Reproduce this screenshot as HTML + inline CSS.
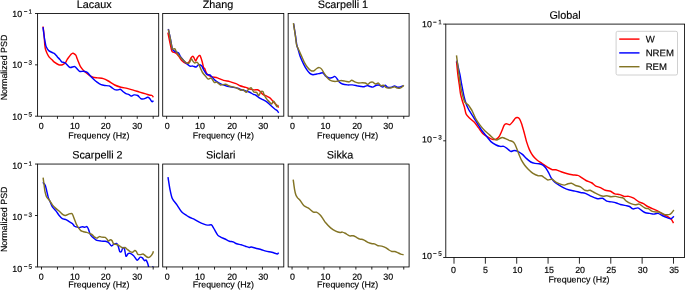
<!DOCTYPE html>
<html><head><meta charset="utf-8"><title>PSD</title>
<style>html,body{margin:0;padding:0;background:#fff}body{width:685px;height:290px;overflow:hidden}</style></head>
<body>
<svg width="685" height="290" viewBox="0 0 685 290" style="display:block;will-change:transform">
<rect width="685" height="290" fill="#fff"/>
<defs>
<clipPath id="c1"><rect x="37.6" y="13.5" width="121.10" height="102.70"/></clipPath>
<clipPath id="c2"><rect x="162.7" y="13.5" width="121.10" height="102.70"/></clipPath>
<clipPath id="c3"><rect x="288.15" y="13.5" width="120.95" height="102.70"/></clipPath>
<clipPath id="c4"><rect x="37.6" y="164.05" width="121.10" height="102.90"/></clipPath>
<clipPath id="c5"><rect x="162.7" y="164.05" width="121.10" height="102.90"/></clipPath>
<clipPath id="c6"><rect x="288.15" y="164.05" width="120.95" height="102.90"/></clipPath>
<clipPath id="c7"><rect x="445.8" y="24.1" width="238.80" height="233.40"/></clipPath>
</defs>
<g clip-path="url(#c1)" fill="none" stroke-width="1.45" stroke-linejoin="round" stroke-linecap="butt">
<path stroke="#ff0000" d="M43.05 26.50C43.16 27.44 43.78 32.31 43.95 34.00C44.12 35.69 44.34 38.62 44.45 40.00C44.56 41.38 44.67 43.84 44.80 45.00C44.93 46.16 45.23 48.27 45.50 49.30C45.77 50.32 46.54 52.23 47.00 53.20C47.46 54.18 48.54 56.25 49.20 57.10C49.86 57.95 51.70 59.41 52.30 60.00C52.90 60.59 53.20 61.21 54.00 61.80C54.80 62.39 57.64 64.34 58.70 64.70C59.76 65.06 61.66 64.94 62.50 64.70C63.34 64.46 64.85 63.39 65.40 62.80C65.95 62.21 66.55 60.60 66.90 60.00C67.25 59.40 67.68 58.73 68.20 58.00C68.72 57.27 70.54 54.79 71.10 54.20C71.66 53.61 72.40 53.41 72.70 53.30C73.00 53.19 73.11 53.06 73.50 53.30C73.89 53.54 75.33 54.49 75.80 55.20C76.27 55.91 76.96 58.15 77.30 59.00C77.64 59.85 78.10 61.05 78.50 62.00C78.90 62.95 79.78 65.44 80.50 66.60C81.22 67.76 83.22 70.24 84.30 71.30C85.38 72.36 88.02 74.36 89.10 75.10C90.17 75.84 91.84 76.85 92.90 77.20C93.96 77.55 96.30 77.73 97.60 77.90C98.90 78.08 101.96 78.21 103.30 78.60C104.64 78.99 106.88 80.20 108.30 81.00C109.72 81.80 113.12 84.22 114.70 85.00C116.28 85.78 119.35 86.78 120.90 87.20C122.45 87.62 125.55 88.04 127.10 88.40C128.65 88.76 131.74 89.64 133.30 90.10C134.86 90.56 138.04 91.62 139.60 92.10C141.16 92.57 144.49 93.51 145.80 93.90C147.11 94.29 149.32 95.00 150.10 95.20C150.88 95.40 151.59 95.24 152.00 95.50C152.41 95.76 153.22 97.08 153.40 97.30"/>
<path stroke="#0000ff" d="M43.00 27.20C43.17 28.55 44.11 36.02 44.40 38.00C44.69 39.98 45.07 41.90 45.30 43.00C45.52 44.10 45.74 45.81 46.20 46.80C46.66 47.79 48.15 50.14 49.00 50.90C49.85 51.66 52.31 52.56 53.00 52.90C53.69 53.24 53.95 53.10 54.50 53.60C55.05 54.10 56.71 56.15 57.40 56.90C58.09 57.65 59.48 58.99 60.00 59.60C60.52 60.21 60.92 61.36 61.60 61.80C62.28 62.24 64.34 62.39 65.40 63.10C66.46 63.81 68.92 67.06 70.10 67.50C71.27 67.94 73.61 66.12 74.80 66.60C75.99 67.07 78.52 70.71 79.60 71.30C80.67 71.89 82.45 71.17 83.40 71.30C84.35 71.42 86.35 71.74 87.20 72.30C88.05 72.86 89.40 74.92 90.20 75.80C91.00 76.67 92.70 78.47 93.60 79.30C94.50 80.12 96.46 81.73 97.40 82.40C98.34 83.08 100.17 84.31 101.10 84.70C102.02 85.09 103.79 85.35 104.80 85.50C105.81 85.65 108.26 85.59 109.20 85.90C110.14 86.21 111.61 87.54 112.30 88.00C112.99 88.46 114.01 89.36 114.70 89.60C115.39 89.84 117.10 89.94 117.80 89.90C118.50 89.86 119.67 89.11 120.30 89.30C120.92 89.49 122.10 90.86 122.80 91.40C123.50 91.94 125.12 93.20 125.90 93.60C126.68 94.00 128.35 94.29 129.00 94.60C129.65 94.91 130.47 96.06 131.10 96.10C131.72 96.14 133.18 94.98 134.00 94.90C134.82 94.83 136.85 95.04 137.70 95.50C138.55 95.96 140.03 98.17 140.80 98.60C141.58 99.02 143.05 99.06 143.90 98.90C144.75 98.74 146.90 97.38 147.60 97.30C148.30 97.22 148.95 97.75 149.50 98.30C150.05 98.85 151.51 101.40 152.00 101.70C152.49 102.00 153.22 100.83 153.40 100.70"/>
</g>
<g clip-path="url(#c2)" fill="none" stroke-width="1.45" stroke-linejoin="round" stroke-linecap="butt">
<path stroke="#ff0000" d="M167.90 32.60C168.15 33.84 169.44 40.27 169.90 42.50C170.36 44.73 171.26 49.21 171.60 50.40C171.94 51.59 172.11 51.67 172.60 52.00C173.09 52.33 174.75 52.49 175.50 53.00C176.25 53.51 177.82 55.16 178.60 56.10C179.38 57.04 180.76 59.56 181.70 60.50C182.64 61.44 185.16 63.45 186.10 63.60C187.04 63.75 188.59 62.40 189.20 61.70C189.81 61.00 190.54 58.70 191.00 58.00C191.46 57.30 192.51 56.10 192.90 56.10C193.29 56.10 193.75 57.38 194.10 58.00C194.45 58.62 195.31 61.10 195.70 61.10C196.09 61.10 196.77 58.70 197.20 58.00C197.62 57.30 198.71 55.74 199.10 55.50C199.49 55.26 199.91 55.33 200.30 56.10C200.69 56.88 201.77 60.19 202.20 61.70C202.62 63.21 203.39 67.35 203.70 68.20C204.01 69.05 204.31 67.80 204.70 68.50C205.09 69.20 205.99 72.79 206.80 73.80C207.61 74.81 209.88 76.09 211.20 76.60C212.52 77.11 215.85 77.43 217.40 77.90C218.95 78.38 222.05 79.94 223.60 80.40C225.15 80.86 228.25 81.19 229.80 81.60C231.35 82.01 234.72 83.18 236.00 83.70C237.28 84.22 238.78 85.29 240.00 85.75C241.22 86.21 244.55 86.98 245.80 87.40C247.05 87.82 248.95 88.79 250.00 89.10C251.05 89.41 253.26 89.83 254.20 89.90C255.14 89.98 256.77 89.54 257.50 89.70C258.23 89.86 259.38 90.65 260.00 91.20C260.62 91.75 261.65 93.47 262.50 94.10C263.35 94.72 265.88 95.74 266.80 96.20C267.73 96.66 269.29 97.36 269.90 97.80C270.51 98.24 271.24 99.16 271.70 99.70C272.16 100.24 273.05 101.49 273.60 102.10C274.15 102.71 275.56 104.05 276.10 104.60C276.64 105.15 277.64 106.11 277.95 106.50C278.26 106.89 278.52 107.55 278.60 107.70"/>
<path stroke="#0000ff" d="M168.30 29.00C168.59 30.34 170.07 37.18 170.60 39.70C171.12 42.23 171.89 47.69 172.50 49.20C173.11 50.71 174.74 51.32 175.50 51.80C176.26 52.27 177.97 52.39 178.60 53.00C179.22 53.61 179.88 55.76 180.50 56.70C181.12 57.64 182.82 59.64 183.60 60.50C184.38 61.36 185.92 62.90 186.70 63.60C187.47 64.30 189.03 65.79 189.80 66.10C190.58 66.41 192.12 65.99 192.90 66.10C193.68 66.21 195.30 67.16 196.00 67.00C196.70 66.84 197.80 64.95 198.50 64.80C199.20 64.65 200.95 65.17 201.60 65.80C202.25 66.42 203.05 68.72 203.70 69.80C204.35 70.88 206.03 73.75 206.80 74.40C207.58 75.05 209.20 74.61 209.90 75.00C210.60 75.39 211.62 76.72 212.40 77.50C213.18 78.28 215.01 80.38 216.10 81.20C217.19 82.03 219.70 83.47 221.10 84.10C222.50 84.72 225.75 85.79 227.30 86.20C228.85 86.61 232.22 87.14 233.50 87.40C234.78 87.66 236.28 87.89 237.50 88.25C238.72 88.61 241.84 89.83 243.30 90.30C244.76 90.77 247.95 91.50 249.20 92.00C250.45 92.50 252.50 93.92 253.30 94.30C254.10 94.67 254.85 94.56 255.60 95.00C256.35 95.44 258.38 97.21 259.30 97.80C260.23 98.39 262.06 99.20 263.00 99.70C263.94 100.20 265.86 101.11 266.80 101.80C267.74 102.49 269.50 104.30 270.50 105.20C271.50 106.10 273.95 108.30 274.80 109.00C275.65 109.70 276.81 110.31 277.30 110.80C277.79 111.29 278.52 112.64 278.70 112.90"/>
<path stroke="#837424" d="M168.40 29.30C168.66 30.64 170.01 37.59 170.50 40.00C170.99 42.41 171.75 47.49 172.30 48.60C172.85 49.71 174.35 48.42 174.90 48.90C175.45 49.38 176.07 51.42 176.70 52.40C177.32 53.38 179.04 55.69 179.90 56.70C180.76 57.71 182.75 59.71 183.60 60.50C184.45 61.29 186.00 62.69 186.70 63.00C187.40 63.31 188.69 63.39 189.20 63.00C189.71 62.61 190.50 60.41 190.80 59.90C191.10 59.39 191.34 58.75 191.60 58.90C191.86 59.05 192.51 60.59 192.90 61.10C193.29 61.61 194.16 62.85 194.70 63.00C195.24 63.15 196.65 62.07 197.20 62.30C197.75 62.52 198.64 63.94 199.10 64.80C199.56 65.66 200.47 68.24 200.90 69.20C201.33 70.16 201.91 71.61 202.50 72.50C203.09 73.39 204.90 75.47 205.60 76.30C206.30 77.12 207.40 78.88 208.10 79.10C208.80 79.32 210.42 77.67 211.20 78.10C211.97 78.52 213.61 82.00 214.30 82.50C214.99 83.00 215.92 81.79 216.70 82.10C217.47 82.41 219.41 84.72 220.50 85.00C221.59 85.28 224.24 84.15 225.40 84.30C226.56 84.45 228.60 85.81 229.80 86.20C231.00 86.59 233.94 87.08 235.00 87.40C236.06 87.73 237.58 88.44 238.30 88.80C239.03 89.16 240.18 90.19 240.80 90.30C241.43 90.41 242.62 89.44 243.30 89.70C243.98 89.96 245.62 92.43 246.25 92.40C246.88 92.38 247.68 90.08 248.30 89.50C248.93 88.92 250.57 87.49 251.25 87.80C251.93 88.11 253.07 91.42 253.75 92.00C254.43 92.58 256.07 91.93 256.70 92.40C257.32 92.87 258.24 95.83 258.75 95.75C259.26 95.67 260.28 92.32 260.80 91.80C261.32 91.28 262.46 91.16 262.90 91.60C263.34 92.04 263.90 94.49 264.30 95.30C264.70 96.11 265.64 97.44 266.10 98.10C266.56 98.76 267.52 100.05 268.00 100.60C268.48 101.15 269.44 102.08 269.90 102.50C270.36 102.92 271.31 104.12 271.70 104.00C272.09 103.88 272.65 101.74 273.00 101.50C273.35 101.26 274.15 101.67 274.50 102.10C274.85 102.52 275.49 104.31 275.80 104.90C276.11 105.49 276.69 106.80 277.00 106.80C277.31 106.80 278.14 105.14 278.30 104.90"/>
</g>
<g clip-path="url(#c3)" fill="none" stroke-width="1.45" stroke-linejoin="round" stroke-linecap="butt">
<path stroke="#0000ff" d="M293.60 23.60C293.84 25.12 295.10 33.12 295.50 35.80C295.90 38.47 296.48 43.33 296.80 45.00C297.12 46.67 297.64 47.66 298.10 49.20C298.56 50.74 299.81 55.44 300.50 57.30C301.19 59.16 302.82 62.55 303.60 64.10C304.38 65.65 305.97 68.54 306.75 69.70C307.53 70.86 309.08 72.78 309.85 73.40C310.62 74.03 312.09 74.62 312.95 74.70C313.81 74.78 315.77 74.24 316.70 74.05C317.63 73.86 319.62 73.36 320.40 73.20C321.17 73.04 322.27 72.46 322.90 72.80C323.52 73.14 324.70 75.28 325.40 75.90C326.10 76.53 327.73 77.56 328.50 77.80C329.27 78.04 330.91 77.95 331.60 77.80C332.29 77.65 333.57 76.76 334.00 76.60C334.43 76.44 334.65 76.28 335.00 76.50C335.35 76.72 336.26 77.70 336.80 78.40C337.34 79.10 338.60 81.40 339.30 82.10C340.00 82.80 341.39 83.65 342.40 84.00C343.41 84.35 346.16 84.79 347.40 84.90C348.64 85.01 351.06 84.78 352.30 84.90C353.54 85.02 356.21 85.65 357.30 85.85C358.39 86.05 360.15 86.38 361.00 86.50C361.85 86.62 363.33 86.91 364.10 86.80C364.88 86.69 366.43 85.64 367.20 85.60C367.97 85.56 369.60 86.31 370.30 86.50C371.00 86.69 372.03 87.26 372.80 87.10C373.57 86.94 375.65 85.44 376.50 85.20C377.35 84.96 378.83 84.96 379.60 85.20C380.38 85.44 382.00 87.10 382.70 87.10C383.40 87.10 384.57 85.17 385.20 85.20C385.82 85.23 386.93 87.04 387.70 87.30C388.47 87.56 390.55 87.48 391.40 87.30C392.25 87.12 393.73 85.85 394.50 85.85C395.27 85.85 396.83 87.18 397.60 87.30C398.38 87.42 400.00 86.98 400.70 86.80C401.40 86.62 402.89 85.97 403.20 85.85"/>
<path stroke="#837424" d="M293.40 23.20C293.64 24.72 294.91 32.71 295.30 35.40C295.69 38.09 296.15 43.06 296.50 44.70C296.85 46.34 297.51 47.16 298.10 48.50C298.69 49.84 300.43 53.67 301.20 55.40C301.97 57.12 303.53 60.82 304.30 62.30C305.07 63.77 306.62 66.20 307.40 67.20C308.17 68.20 309.73 69.83 310.50 70.30C311.27 70.77 312.83 71.22 313.60 71.00C314.38 70.78 316.00 68.92 316.70 68.50C317.40 68.08 318.59 67.52 319.20 67.60C319.81 67.67 320.91 68.29 321.60 69.10C322.29 69.91 323.84 72.86 324.70 74.10C325.56 75.34 327.64 78.15 328.50 79.00C329.36 79.85 330.68 80.60 331.60 80.90C332.53 81.20 334.76 81.44 335.90 81.40C337.04 81.36 339.57 80.64 340.70 80.60C341.82 80.56 343.84 80.94 344.90 81.10C345.96 81.26 348.35 82.00 349.20 81.90C350.05 81.80 351.00 80.30 351.70 80.30C352.40 80.30 353.95 81.56 354.80 81.90C355.65 82.24 357.56 82.89 358.50 83.00C359.44 83.11 361.44 82.75 362.30 82.75C363.16 82.75 364.71 82.79 365.40 83.00C366.09 83.21 367.19 84.48 367.80 84.40C368.41 84.33 369.68 82.69 370.30 82.40C370.93 82.11 372.18 81.90 372.80 82.10C373.43 82.30 374.60 83.88 375.30 84.00C376.00 84.12 377.70 82.87 378.40 83.10C379.10 83.33 380.28 85.59 380.90 85.85C381.52 86.11 382.74 85.02 383.35 85.20C383.96 85.38 385.18 86.94 385.80 87.30C386.42 87.66 387.60 88.05 388.30 88.10C389.00 88.15 390.62 87.86 391.40 87.70C392.17 87.54 393.73 86.75 394.50 86.80C395.27 86.85 396.90 87.94 397.60 88.10C398.30 88.26 399.48 88.30 400.10 88.10C400.73 87.90 402.14 86.86 402.60 86.50C403.06 86.14 403.65 85.36 403.80 85.20"/>
</g>
<g clip-path="url(#c4)" fill="none" stroke-width="1.45" stroke-linejoin="round" stroke-linecap="butt">
<path stroke="#0000ff" d="M42.80 182.40C43.11 182.79 44.75 184.18 45.30 185.50C45.85 186.82 46.81 191.45 47.20 193.00C47.59 194.55 48.06 196.88 48.40 197.90C48.74 198.93 49.40 200.09 49.90 201.20C50.40 202.31 51.62 205.56 52.40 206.80C53.17 208.04 55.25 210.01 56.10 211.10C56.95 212.19 58.43 214.56 59.20 215.50C59.98 216.44 61.44 218.09 62.30 218.60C63.16 219.11 65.19 219.21 66.05 219.60C66.91 219.99 68.42 221.21 69.20 221.70C69.98 222.19 71.64 222.93 72.30 223.50C72.96 224.07 73.99 225.88 74.50 226.30C75.01 226.73 75.80 226.73 76.40 226.90C77.00 227.07 78.58 227.72 79.30 227.70C80.02 227.67 81.51 226.75 82.20 226.70C82.89 226.65 84.20 227.31 84.80 227.30C85.40 227.29 86.55 226.38 87.00 226.60C87.45 226.82 88.04 228.24 88.40 229.10C88.76 229.96 89.49 232.59 89.90 233.50C90.31 234.41 91.20 235.81 91.70 236.40C92.20 236.99 93.26 237.75 93.90 238.25C94.54 238.75 95.89 240.04 96.80 240.40C97.71 240.76 100.14 240.99 101.20 241.10C102.26 241.21 104.40 241.15 105.30 241.30C106.20 241.45 107.62 241.72 108.40 242.30C109.18 242.88 110.85 245.69 111.50 245.95C112.15 246.21 112.95 244.72 113.60 244.40C114.25 244.08 116.11 243.14 116.70 243.40C117.29 243.66 117.91 245.47 118.30 246.50C118.69 247.53 119.41 251.01 119.80 251.65C120.19 252.29 121.01 252.17 121.40 251.65C121.79 251.13 122.51 247.82 122.90 247.50C123.29 247.18 124.11 248.00 124.50 249.10C124.89 250.20 125.55 255.73 126.00 256.30C126.45 256.88 127.57 254.06 128.10 253.70C128.62 253.34 129.54 253.18 130.20 253.40C130.86 253.62 132.74 254.89 133.40 255.50C134.06 256.11 135.03 257.71 135.50 258.30C135.97 258.89 136.60 260.34 137.20 260.20C137.80 260.06 139.65 257.49 140.30 257.20C140.95 256.91 141.88 257.46 142.40 257.90C142.93 258.34 144.06 260.44 144.50 260.70C144.94 260.96 145.56 259.82 145.90 260.00C146.24 260.18 146.90 261.41 147.20 262.10C147.50 262.79 148.05 264.57 148.30 265.50C148.55 266.43 148.92 268.81 149.20 269.50C149.47 270.19 150.18 271.15 150.50 271.00C150.82 270.85 151.44 268.85 151.80 268.30C152.16 267.75 153.20 266.81 153.40 266.60"/>
<path stroke="#837424" d="M43.10 177.70C43.23 178.60 43.88 183.22 44.10 184.90C44.33 186.58 44.60 189.62 44.90 191.10C45.20 192.57 45.96 195.59 46.50 196.70C47.04 197.81 48.46 198.97 49.20 200.00C49.94 201.03 51.54 203.83 52.40 204.90C53.26 205.97 55.17 207.74 56.10 208.60C57.03 209.46 58.99 211.00 59.85 211.75C60.71 212.50 62.26 214.13 62.95 214.60C63.64 215.07 64.62 215.59 65.40 215.50C66.18 215.41 68.38 214.14 69.20 213.90C70.03 213.66 71.46 213.25 72.00 213.60C72.54 213.95 73.14 215.84 73.50 216.70C73.86 217.56 74.54 219.54 74.90 220.50C75.26 221.46 75.99 223.55 76.40 224.40C76.81 225.25 77.65 226.53 78.20 227.30C78.75 228.08 80.21 230.07 80.80 230.60C81.39 231.12 82.18 231.28 82.90 231.50C83.62 231.72 85.77 232.15 86.60 232.40C87.42 232.65 88.81 233.22 89.50 233.50C90.19 233.78 91.46 234.14 92.10 234.60C92.74 235.06 94.01 236.71 94.60 237.15C95.19 237.59 96.20 238.17 96.80 238.10C97.40 238.03 98.76 236.72 99.40 236.60C100.04 236.48 101.18 237.05 101.90 237.15C102.62 237.25 104.54 237.12 105.20 237.40C105.86 237.68 106.81 238.94 107.20 239.40C107.59 239.86 107.89 241.06 108.30 241.10C108.71 241.14 110.03 239.74 110.50 239.70C110.97 239.66 111.71 240.28 112.10 240.80C112.49 241.33 113.15 243.45 113.60 243.90C114.05 244.35 115.18 244.28 115.70 244.40C116.22 244.53 117.17 244.64 117.75 244.90C118.33 245.16 119.66 246.11 120.30 246.50C120.94 246.89 122.31 247.88 122.90 248.00C123.49 248.12 124.41 247.30 125.00 247.50C125.59 247.70 126.95 249.08 127.60 249.60C128.25 250.12 129.56 251.33 130.20 251.65C130.84 251.97 132.18 252.34 132.75 252.20C133.32 252.06 134.34 250.57 134.80 250.50C135.26 250.43 136.03 251.16 136.40 251.65C136.78 252.14 137.31 254.03 137.80 254.40C138.29 254.77 139.64 254.65 140.30 254.60C140.96 254.55 142.47 253.86 143.10 254.00C143.72 254.14 144.74 255.29 145.30 255.70C145.86 256.11 147.06 257.11 147.60 257.30C148.14 257.49 149.12 257.44 149.60 257.20C150.07 256.96 151.00 255.91 151.40 255.40C151.80 254.89 152.55 253.61 152.80 253.10C153.05 252.59 153.33 251.53 153.40 251.30"/>
</g>
<g clip-path="url(#c5)" fill="none" stroke-width="1.45" stroke-linejoin="round" stroke-linecap="butt">
<path stroke="#0000ff" d="M168.00 177.20C168.24 178.67 169.36 186.34 169.90 189.00C170.44 191.66 171.40 196.49 172.30 198.50C173.20 200.51 175.91 203.40 177.10 205.10C178.29 206.80 180.61 210.80 181.80 212.10C182.99 213.40 185.57 214.82 186.60 215.50C187.62 216.18 189.03 217.03 190.00 217.50C190.97 217.97 193.30 218.75 194.40 219.30C195.50 219.85 197.61 221.30 198.80 221.90C199.99 222.50 202.81 223.70 203.90 224.10C204.99 224.50 206.59 225.01 207.50 225.10C208.41 225.19 210.56 224.65 211.20 224.80C211.84 224.95 212.15 225.62 212.60 226.30C213.05 226.98 214.16 229.10 214.80 230.20C215.44 231.30 216.96 234.24 217.70 235.10C218.44 235.96 219.79 236.61 220.70 237.10C221.61 237.59 223.91 238.49 225.00 239.00C226.09 239.51 228.39 240.84 229.40 241.20C230.41 241.56 232.19 241.57 233.10 241.90C234.01 242.23 235.70 243.44 236.70 243.80C237.70 244.16 240.00 244.49 241.10 244.80C242.20 245.11 244.50 245.96 245.50 246.30C246.50 246.64 248.38 247.41 249.10 247.50C249.82 247.59 250.48 246.91 251.30 247.00C252.12 247.09 254.42 247.86 255.70 248.20C256.97 248.54 260.23 249.34 261.50 249.70C262.77 250.06 264.62 250.77 265.90 251.10C267.18 251.43 270.48 251.99 271.75 252.30C273.02 252.61 275.37 253.40 276.10 253.60C276.83 253.80 277.29 254.03 277.60 253.90C277.91 253.78 278.48 252.76 278.60 252.60"/>
</g>
<g clip-path="url(#c6)" fill="none" stroke-width="1.45" stroke-linejoin="round" stroke-linecap="butt">
<path stroke="#837424" d="M293.20 179.60C293.36 180.79 294.16 187.16 294.50 189.10C294.84 191.04 295.54 194.04 295.90 195.10C296.26 196.16 296.86 196.92 297.40 197.60C297.94 198.28 299.38 199.47 300.20 200.50C301.02 201.53 302.93 204.81 304.00 205.80C305.07 206.79 307.61 207.60 308.80 208.40C309.99 209.20 312.55 211.72 313.50 212.20C314.45 212.67 315.56 211.86 316.40 212.20C317.24 212.54 319.38 214.07 320.20 214.90C321.02 215.73 322.31 217.81 323.00 218.80C323.69 219.79 324.75 221.67 325.70 222.80C326.65 223.93 329.35 226.81 330.60 227.85C331.85 228.89 334.51 230.52 335.70 231.10C336.89 231.68 339.28 232.38 340.10 232.50C340.93 232.62 341.66 232.01 342.30 232.10C342.94 232.19 344.29 232.78 345.20 233.25C346.11 233.72 348.60 235.59 349.60 235.90C350.60 236.21 352.38 235.54 353.20 235.70C354.02 235.86 355.32 236.77 356.15 237.20C356.97 237.62 358.98 238.81 359.80 239.10C360.62 239.39 361.97 239.26 362.70 239.50C363.43 239.74 364.87 240.60 365.60 241.00C366.33 241.40 367.73 242.35 368.55 242.70C369.38 243.05 371.47 243.65 372.20 243.80C372.93 243.95 373.67 243.66 374.40 243.90C375.12 244.14 377.09 245.42 378.00 245.70C378.91 245.97 380.69 245.83 381.70 246.10C382.71 246.37 385.19 247.36 386.10 247.85C387.01 248.34 388.27 249.54 389.00 250.00C389.73 250.46 391.17 251.31 391.90 251.50C392.62 251.69 394.07 251.35 394.80 251.50C395.53 251.65 397.01 252.38 397.75 252.70C398.49 253.02 399.97 253.85 400.70 254.10C401.43 254.35 403.24 254.62 403.60 254.70"/>
</g>
<g clip-path="url(#c7)" fill="none" stroke-width="1.45" stroke-linejoin="round" stroke-linecap="butt">
<path stroke="#ff0000" d="M456.50 61.50C456.68 63.19 457.55 72.10 457.90 75.00C458.25 77.90 458.96 82.28 459.30 84.70C459.64 87.12 460.18 92.24 460.60 94.40C461.03 96.56 462.23 100.42 462.70 102.00C463.17 103.58 463.97 105.50 464.40 107.00C464.82 108.50 465.54 112.69 466.10 114.00C466.66 115.31 467.86 116.46 468.90 117.50C469.94 118.54 473.19 121.00 474.40 122.30C475.61 123.60 477.56 126.51 478.60 127.90C479.64 129.29 481.57 132.28 482.70 133.40C483.82 134.53 486.39 136.15 487.60 136.90C488.81 137.65 491.27 139.14 492.40 139.40C493.52 139.66 495.73 139.40 496.60 139.00C497.48 138.60 498.70 137.32 499.40 136.20C500.10 135.07 501.60 131.39 502.20 130.00C502.80 128.61 503.69 125.89 504.20 125.10C504.71 124.31 505.60 123.75 506.30 123.70C507.00 123.65 509.01 124.92 509.80 124.70C510.59 124.48 511.91 122.71 512.60 121.90C513.29 121.09 514.70 118.75 515.30 118.20C515.90 117.65 516.88 117.41 517.40 117.50C517.92 117.59 518.98 118.12 519.50 118.90C520.02 119.68 521.08 122.23 521.60 123.70C522.12 125.17 523.20 129.10 523.65 130.70C524.10 132.30 524.83 135.10 525.20 136.50C525.57 137.90 526.08 140.26 526.60 141.90C527.12 143.54 528.61 147.86 529.40 149.60C530.19 151.34 531.95 154.50 532.90 155.80C533.85 157.10 535.88 159.05 537.00 160.00C538.12 160.95 540.60 162.50 541.90 163.40C543.20 164.30 546.10 166.41 547.40 167.20C548.70 167.99 551.24 169.38 552.30 169.70C553.36 170.02 554.80 169.54 555.90 169.80C557.00 170.06 559.76 171.34 561.10 171.80C562.44 172.26 565.21 173.14 566.60 173.50C567.99 173.86 570.81 174.46 572.20 174.70C573.59 174.94 576.66 175.14 577.70 175.40C578.74 175.66 579.46 176.16 580.50 176.80C581.54 177.44 584.61 179.76 586.00 180.50C587.39 181.24 590.43 182.07 591.60 182.75C592.77 183.43 594.29 185.29 595.40 185.90C596.51 186.51 599.26 187.06 600.50 187.60C601.74 188.14 604.04 189.74 605.30 190.20C606.56 190.66 609.41 190.84 610.60 191.30C611.79 191.76 613.65 193.49 614.80 193.90C615.95 194.31 618.65 194.29 619.80 194.60C620.95 194.91 622.88 196.18 624.00 196.40C625.12 196.62 627.59 196.18 628.80 196.40C630.01 196.62 632.49 197.55 633.70 198.20C634.91 198.85 637.29 200.91 638.50 201.60C639.71 202.29 642.26 203.09 643.40 203.70C644.54 204.31 646.48 205.89 647.60 206.50C648.73 207.11 651.10 208.03 652.40 208.60C653.70 209.17 656.70 210.41 658.00 211.10C659.30 211.79 661.59 213.41 662.80 214.10C664.01 214.79 666.66 215.99 667.70 216.60C668.74 217.21 670.38 218.19 671.10 219.00C671.83 219.81 673.20 222.59 673.50 223.10"/>
<path stroke="#0000ff" d="M456.90 60.50C457.09 61.44 458.01 66.19 458.40 68.00C458.79 69.81 459.59 72.91 460.00 75.00C460.41 77.09 461.21 82.10 461.70 84.70C462.19 87.30 463.34 93.38 463.90 95.80C464.46 98.22 465.71 102.60 466.20 104.10C466.69 105.60 467.38 106.91 467.80 107.80C468.23 108.69 468.86 109.99 469.60 111.20C470.34 112.41 472.66 115.85 473.70 117.50C474.74 119.15 476.86 122.75 477.90 124.40C478.94 126.05 480.95 129.25 482.00 130.70C483.05 132.15 485.15 134.60 486.30 136.00C487.45 137.40 489.97 140.78 491.20 141.90C492.43 143.03 494.96 144.44 496.10 145.00C497.24 145.56 499.35 146.22 500.30 146.40C501.25 146.58 502.84 146.12 503.70 146.40C504.56 146.68 506.32 147.97 507.20 148.60C508.07 149.22 509.84 151.16 510.70 151.40C511.56 151.64 513.15 150.47 514.10 150.50C515.05 150.53 517.26 151.11 518.30 151.60C519.34 152.09 521.36 153.53 522.40 154.40C523.44 155.28 525.55 157.65 526.60 158.60C527.65 159.55 529.76 161.40 530.80 162.00C531.84 162.60 533.86 163.18 534.90 163.40C535.94 163.62 538.15 163.61 539.10 163.80C540.05 163.99 541.69 164.41 542.50 164.90C543.31 165.39 544.84 166.74 545.60 167.70C546.36 168.66 547.88 171.29 548.60 172.60C549.32 173.91 550.58 176.99 551.35 178.20C552.12 179.41 553.84 181.44 554.80 182.30C555.76 183.16 557.88 184.40 559.00 185.10C560.12 185.80 562.50 187.29 563.80 187.90C565.10 188.51 568.01 189.60 569.40 190.00C570.79 190.40 573.51 190.79 574.90 191.10C576.29 191.41 579.20 192.21 580.50 192.50C581.80 192.79 584.10 192.99 585.30 193.40C586.50 193.81 588.98 195.28 590.10 195.80C591.23 196.33 593.35 197.22 594.30 197.60C595.25 197.97 596.66 198.71 597.70 198.80C598.74 198.89 601.48 198.01 602.60 198.30C603.73 198.59 605.58 200.65 606.70 201.10C607.83 201.55 610.39 201.66 611.60 201.90C612.81 202.14 615.31 202.68 616.40 203.00C617.49 203.32 619.01 204.15 620.30 204.50C621.59 204.85 625.60 205.55 626.75 205.80C627.90 206.05 628.72 206.11 629.50 206.50C630.28 206.89 631.96 208.72 633.00 208.90C634.04 209.08 636.73 207.68 637.85 207.90C638.98 208.12 641.04 210.10 642.00 210.70C642.96 211.30 644.55 212.36 645.50 212.70C646.45 213.04 648.56 213.22 649.60 213.40C650.64 213.58 652.75 214.10 653.80 214.10C654.85 214.10 656.96 213.22 658.00 213.40C659.04 213.58 660.98 214.97 662.10 215.50C663.23 216.03 665.88 217.20 667.00 217.60C668.12 218.00 670.24 218.88 671.10 218.70C671.96 218.52 673.55 216.51 673.90 216.20"/>
<path stroke="#837424" d="M456.50 55.30C456.81 57.76 458.49 71.15 459.00 75.00C459.51 78.85 460.14 83.50 460.60 86.10C461.06 88.70 462.18 93.81 462.70 95.80C463.22 97.79 464.10 100.85 464.80 102.00C465.50 103.15 467.53 104.12 468.30 105.00C469.07 105.88 470.50 108.22 471.00 109.00C471.50 109.78 471.70 109.96 472.30 111.20C472.90 112.44 474.84 117.16 475.80 118.90C476.76 120.64 478.88 123.62 480.00 125.10C481.12 126.57 483.61 129.47 484.80 130.70C485.99 131.92 488.41 133.90 489.50 134.90C490.59 135.90 492.60 138.06 493.50 138.70C494.40 139.34 495.95 140.01 496.70 140.00C497.45 139.99 498.80 138.92 499.50 138.60C500.20 138.28 501.56 137.40 502.30 137.40C503.04 137.40 504.56 138.24 505.40 138.60C506.24 138.96 508.09 139.91 509.00 140.30C509.91 140.69 511.98 141.24 512.70 141.70C513.43 142.16 514.27 143.10 514.80 144.00C515.32 144.90 516.38 147.60 516.90 148.90C517.42 150.20 518.39 152.93 519.00 154.40C519.61 155.88 521.04 159.35 521.75 160.70C522.46 162.05 523.86 164.11 524.70 165.20C525.54 166.29 527.46 168.38 528.50 169.40C529.54 170.43 531.79 172.60 533.00 173.40C534.21 174.20 537.12 175.50 538.20 175.80C539.28 176.10 540.74 175.50 541.60 175.80C542.46 176.10 544.31 177.67 545.10 178.20C545.89 178.72 547.04 179.86 547.90 180.00C548.76 180.14 550.96 179.01 552.00 179.30C553.04 179.59 555.06 181.66 556.20 182.30C557.34 182.94 560.06 184.05 561.10 184.40C562.14 184.75 563.64 185.19 564.50 185.10C565.36 185.01 567.12 183.92 568.00 183.70C568.88 183.47 570.55 183.08 571.50 183.30C572.45 183.53 574.48 185.05 575.60 185.50C576.73 185.95 579.38 186.31 580.50 186.90C581.62 187.49 583.74 189.72 584.60 190.20C585.46 190.67 586.71 190.70 587.40 190.70C588.09 190.70 589.16 189.94 590.10 190.20C591.04 190.46 593.62 192.14 594.90 192.80C596.17 193.46 599.24 195.06 600.30 195.50C601.36 195.94 602.56 196.28 603.40 196.30C604.24 196.33 606.05 195.65 607.00 195.70C607.95 195.75 609.94 196.61 611.00 196.70C612.06 196.79 614.40 196.31 615.50 196.40C616.60 196.49 618.82 197.18 619.80 197.40C620.77 197.62 622.43 197.70 623.30 198.20C624.17 198.70 625.80 200.71 626.75 201.40C627.70 202.09 629.86 203.27 630.90 203.70C631.94 204.12 634.06 204.75 635.10 204.80C636.14 204.85 638.25 203.89 639.20 204.10C640.15 204.31 641.91 205.97 642.70 206.50C643.49 207.03 644.81 208.04 645.50 208.30C646.19 208.56 647.48 208.25 648.25 208.60C649.02 208.95 650.74 210.67 651.70 211.10C652.66 211.53 654.94 211.89 655.90 212.00C656.86 212.11 658.40 211.74 659.35 212.00C660.30 212.26 662.54 213.75 663.50 214.10C664.46 214.45 666.22 214.76 667.00 214.80C667.78 214.84 669.15 214.66 669.75 214.40C670.35 214.14 671.28 213.25 671.80 212.70C672.32 212.15 673.64 210.34 673.90 210.00"/>
</g>
<g stroke="#000" stroke-width="0.85" fill="none">
<rect x="37.6" y="13.5" width="121.10" height="102.70"/>
<path d="M41.51 116.2v2.6M57.46 116.2v2.6M73.42 116.2v2.6M89.37 116.2v2.6M105.33 116.2v2.6M121.29 116.2v2.6M137.24 116.2v2.6M153.20 116.2v2.6M37.6 13.50h-2.6M37.6 64.85h-2.6M37.6 116.20h-2.6"/>
<rect x="162.7" y="13.5" width="121.10" height="102.70"/>
<path d="M166.61 116.2v2.6M182.58 116.2v2.6M198.55 116.2v2.6M214.52 116.2v2.6M230.49 116.2v2.6M246.45 116.2v2.6M262.42 116.2v2.6M278.39 116.2v2.6"/>
<rect x="288.15" y="13.5" width="120.95" height="102.70"/>
<path d="M292.06 116.2v2.6M308.01 116.2v2.6M323.97 116.2v2.6M339.92 116.2v2.6M355.88 116.2v2.6M371.84 116.2v2.6M387.79 116.2v2.6M403.75 116.2v2.6"/>
<rect x="37.6" y="164.05" width="121.10" height="102.90"/>
<path d="M41.51 266.95v2.6M57.46 266.95v2.6M73.42 266.95v2.6M89.37 266.95v2.6M105.33 266.95v2.6M121.29 266.95v2.6M137.24 266.95v2.6M153.20 266.95v2.6M37.6 164.05h-2.6M37.6 215.50h-2.6M37.6 266.95h-2.6"/>
<rect x="162.7" y="164.05" width="121.10" height="102.90"/>
<path d="M166.61 266.95v2.6M182.58 266.95v2.6M198.55 266.95v2.6M214.52 266.95v2.6M230.49 266.95v2.6M246.45 266.95v2.6M262.42 266.95v2.6M278.39 266.95v2.6"/>
<rect x="288.15" y="164.05" width="120.95" height="102.90"/>
<path d="M292.06 266.95v2.6M308.01 266.95v2.6M323.97 266.95v2.6M339.92 266.95v2.6M355.88 266.95v2.6M371.84 266.95v2.6M387.79 266.95v2.6M403.75 266.95v2.6"/>
<rect x="445.8" y="24.1" width="238.80" height="233.40"/>
<path d="M454.00 257.5v6.2M485.36 257.5v6.2M516.71 257.5v6.2M548.07 257.5v6.2M579.42 257.5v6.2M610.77 257.5v6.2M642.13 257.5v6.2M673.49 257.5v6.2M445.8 24.10h-2.6M445.8 140.80h-2.6M445.8 257.50h-2.6"/>
</g>
<g font-family="'Liberation Sans',Arial,Helvetica,sans-serif" fill="#000" stroke="#000" stroke-width="0.15" style="text-rendering:geometricPrecision">
<text x="76.80" y="7.90" font-size="10.8" transform="matrix(1 0.0005 0 1 0 -0.0384)">Lacaux</text>
<text x="202.70" y="7.90" font-size="10.8" transform="matrix(1 0.0005 0 1 0 -0.1014)">Zhang</text>
<text x="317.70" y="7.90" font-size="10.8" transform="matrix(1 0.0005 0 1 0 -0.1588)">Scarpelli 1</text>
<text x="72.20" y="158.50" font-size="10.8" transform="matrix(1 0.0005 0 1 0 -0.0361)">Scarpelli 2</text>
<text x="206.00" y="158.50" font-size="10.8" transform="matrix(1 0.0005 0 1 0 -0.1030)">Siclari</text>
<text x="326.80" y="158.50" font-size="10.8" transform="matrix(1 0.0005 0 1 0 -0.1634)">Sikka</text>
<text x="549.40" y="18.75" font-size="10.8" transform="matrix(1 0.0005 0 1 0 -0.2747)">Global</text>
<text x="41.21" y="129.10" font-size="8.9" text-anchor="middle" transform="matrix(1 0.0005 0 1 0 -0.0206)">0</text>
<text x="74.82" y="129.10" font-size="8.9" text-anchor="middle" transform="matrix(1 0.0005 0 1 0 -0.0374)">10</text>
<text x="105.73" y="129.10" font-size="8.9" text-anchor="middle" transform="matrix(1 0.0005 0 1 0 -0.0529)">20</text>
<text x="137.24" y="129.10" font-size="8.9" text-anchor="middle" transform="matrix(1 0.0005 0 1 0 -0.0686)">30</text>
<text x="167.31" y="129.10" font-size="8.9" text-anchor="middle" transform="matrix(1 0.0005 0 1 0 -0.0837)">0</text>
<text x="200.05" y="129.10" font-size="8.9" text-anchor="middle" transform="matrix(1 0.0005 0 1 0 -0.1000)">10</text>
<text x="232.09" y="129.10" font-size="8.9" text-anchor="middle" transform="matrix(1 0.0005 0 1 0 -0.1160)">20</text>
<text x="263.22" y="129.10" font-size="8.9" text-anchor="middle" transform="matrix(1 0.0005 0 1 0 -0.1316)">30</text>
<text x="292.56" y="129.10" font-size="8.9" text-anchor="middle" transform="matrix(1 0.0005 0 1 0 -0.1463)">0</text>
<text x="325.47" y="129.10" font-size="8.9" text-anchor="middle" transform="matrix(1 0.0005 0 1 0 -0.1627)">10</text>
<text x="357.08" y="129.10" font-size="8.9" text-anchor="middle" transform="matrix(1 0.0005 0 1 0 -0.1785)">20</text>
<text x="388.19" y="129.10" font-size="8.9" text-anchor="middle" transform="matrix(1 0.0005 0 1 0 -0.1941)">30</text>
<text x="41.21" y="279.70" font-size="8.9" text-anchor="middle" transform="matrix(1 0.0005 0 1 0 -0.0206)">0</text>
<text x="74.82" y="279.70" font-size="8.9" text-anchor="middle" transform="matrix(1 0.0005 0 1 0 -0.0374)">10</text>
<text x="105.73" y="279.70" font-size="8.9" text-anchor="middle" transform="matrix(1 0.0005 0 1 0 -0.0529)">20</text>
<text x="137.24" y="279.70" font-size="8.9" text-anchor="middle" transform="matrix(1 0.0005 0 1 0 -0.0686)">30</text>
<text x="167.31" y="279.70" font-size="8.9" text-anchor="middle" transform="matrix(1 0.0005 0 1 0 -0.0837)">0</text>
<text x="200.05" y="279.70" font-size="8.9" text-anchor="middle" transform="matrix(1 0.0005 0 1 0 -0.1000)">10</text>
<text x="232.09" y="279.70" font-size="8.9" text-anchor="middle" transform="matrix(1 0.0005 0 1 0 -0.1160)">20</text>
<text x="263.22" y="279.70" font-size="8.9" text-anchor="middle" transform="matrix(1 0.0005 0 1 0 -0.1316)">30</text>
<text x="292.56" y="279.70" font-size="8.9" text-anchor="middle" transform="matrix(1 0.0005 0 1 0 -0.1463)">0</text>
<text x="325.47" y="279.70" font-size="8.9" text-anchor="middle" transform="matrix(1 0.0005 0 1 0 -0.1627)">10</text>
<text x="357.08" y="279.70" font-size="8.9" text-anchor="middle" transform="matrix(1 0.0005 0 1 0 -0.1785)">20</text>
<text x="388.19" y="279.70" font-size="8.9" text-anchor="middle" transform="matrix(1 0.0005 0 1 0 -0.1941)">30</text>
<text x="453.40" y="273.00" font-size="8.9" text-anchor="middle" transform="matrix(1 0.0005 0 1 0 -0.2267)">0</text>
<text x="485.36" y="273.00" font-size="8.9" text-anchor="middle" transform="matrix(1 0.0005 0 1 0 -0.2427)">5</text>
<text x="517.41" y="273.00" font-size="8.9" text-anchor="middle" transform="matrix(1 0.0005 0 1 0 -0.2587)">10</text>
<text x="549.07" y="273.00" font-size="8.9" text-anchor="middle" transform="matrix(1 0.0005 0 1 0 -0.2745)">15</text>
<text x="580.12" y="273.00" font-size="8.9" text-anchor="middle" transform="matrix(1 0.0005 0 1 0 -0.2901)">20</text>
<text x="611.27" y="273.00" font-size="8.9" text-anchor="middle" transform="matrix(1 0.0005 0 1 0 -0.3056)">25</text>
<text x="642.73" y="273.00" font-size="8.9" text-anchor="middle" transform="matrix(1 0.0005 0 1 0 -0.3214)">30</text>
<text x="674.09" y="273.00" font-size="8.9" text-anchor="middle" transform="matrix(1 0.0005 0 1 0 -0.3370)">35</text>
<text x="98.95" y="138.60" font-size="8.9" text-anchor="middle" transform="matrix(1 0.0005 0 1 0 -0.0495)">Frequency (Hz)</text>
<text x="223.40" y="138.60" font-size="8.9" text-anchor="middle" transform="matrix(1 0.0005 0 1 0 -0.1117)">Frequency (Hz)</text>
<text x="347.70" y="138.60" font-size="8.9" text-anchor="middle" transform="matrix(1 0.0005 0 1 0 -0.1739)">Frequency (Hz)</text>
<text x="98.95" y="287.60" font-size="8.9" text-anchor="middle" transform="matrix(1 0.0005 0 1 0 -0.0495)">Frequency (Hz)</text>
<text x="223.40" y="287.60" font-size="8.9" text-anchor="middle" transform="matrix(1 0.0005 0 1 0 -0.1117)">Frequency (Hz)</text>
<text x="347.70" y="287.60" font-size="8.9" text-anchor="middle" transform="matrix(1 0.0005 0 1 0 -0.1739)">Frequency (Hz)</text>
<text x="579.00" y="282.50" font-size="8.9" text-anchor="middle" transform="matrix(1 0.0005 0 1 0 -0.2895)">Frequency (Hz)</text>
<text transform="translate(6.7 67.5) rotate(-90)" font-size="8.9" text-anchor="middle">Normalized PSD</text>
<text transform="translate(6.7 219.3) rotate(-90)" font-size="8.9" text-anchor="middle">Normalized PSD</text>
<text x="12.25" y="16.95" font-size="8.9" transform="matrix(1 0.0005 0 1 0 -0.0061)">10</text>
<text x="23.80" y="13.85" font-size="6.3" transform="matrix(1 0.0005 0 1 0 -0.0119)">−</text>
<text x="31.90" y="13.85" font-size="6.3" text-anchor="end" transform="matrix(1 0.0005 0 1 0 -0.0159)">1</text>
<text x="12.25" y="67.87" font-size="8.9" transform="matrix(1 0.0005 0 1 0 -0.0061)">10</text>
<text x="23.80" y="64.77" font-size="6.3" transform="matrix(1 0.0005 0 1 0 -0.0119)">−</text>
<text x="31.90" y="64.77" font-size="6.3" text-anchor="end" transform="matrix(1 0.0005 0 1 0 -0.0159)">3</text>
<text x="12.25" y="119.70" font-size="8.9" transform="matrix(1 0.0005 0 1 0 -0.0061)">10</text>
<text x="23.80" y="116.60" font-size="6.3" transform="matrix(1 0.0005 0 1 0 -0.0119)">−</text>
<text x="31.90" y="116.60" font-size="6.3" text-anchor="end" transform="matrix(1 0.0005 0 1 0 -0.0159)">5</text>
<text x="12.25" y="168.80" font-size="8.9" transform="matrix(1 0.0005 0 1 0 -0.0061)">10</text>
<text x="23.80" y="165.70" font-size="6.3" transform="matrix(1 0.0005 0 1 0 -0.0119)">−</text>
<text x="31.90" y="165.70" font-size="6.3" text-anchor="end" transform="matrix(1 0.0005 0 1 0 -0.0159)">1</text>
<text x="12.25" y="220.00" font-size="8.9" transform="matrix(1 0.0005 0 1 0 -0.0061)">10</text>
<text x="23.80" y="216.90" font-size="6.3" transform="matrix(1 0.0005 0 1 0 -0.0119)">−</text>
<text x="31.90" y="216.90" font-size="6.3" text-anchor="end" transform="matrix(1 0.0005 0 1 0 -0.0159)">3</text>
<text x="12.25" y="271.90" font-size="8.9" transform="matrix(1 0.0005 0 1 0 -0.0061)">10</text>
<text x="23.80" y="268.80" font-size="6.3" transform="matrix(1 0.0005 0 1 0 -0.0119)">−</text>
<text x="31.90" y="268.80" font-size="6.3" text-anchor="end" transform="matrix(1 0.0005 0 1 0 -0.0159)">5</text>
<text x="422.05" y="27.30" font-size="8.9" transform="matrix(1 0.0005 0 1 0 -0.2110)">10</text>
<text x="433.10" y="24.20" font-size="6.3" transform="matrix(1 0.0005 0 1 0 -0.2165)">−</text>
<text x="441.70" y="24.20" font-size="6.3" text-anchor="end" transform="matrix(1 0.0005 0 1 0 -0.2208)">1</text>
<text x="422.05" y="142.60" font-size="8.9" transform="matrix(1 0.0005 0 1 0 -0.2110)">10</text>
<text x="433.10" y="139.50" font-size="6.3" transform="matrix(1 0.0005 0 1 0 -0.2165)">−</text>
<text x="441.70" y="139.50" font-size="6.3" text-anchor="end" transform="matrix(1 0.0005 0 1 0 -0.2208)">3</text>
<text x="422.05" y="258.90" font-size="8.9" transform="matrix(1 0.0005 0 1 0 -0.2110)">10</text>
<text x="433.10" y="255.80" font-size="6.3" transform="matrix(1 0.0005 0 1 0 -0.2165)">−</text>
<text x="441.70" y="255.80" font-size="6.3" text-anchor="end" transform="matrix(1 0.0005 0 1 0 -0.2208)">5</text>
<rect x="616.1" y="31.3" width="61.4" height="43.7" rx="1.6" fill="#fff" fill-opacity="0.8" stroke="#c4c4c4" stroke-width="0.8"/>
<line x1="619.2" x2="639.5" y1="39.10" y2="39.10" stroke="#ff0000" stroke-width="1.45"/>
<text x="645.70" y="42.50" font-size="9.6" transform="matrix(1 0.0005 0 1 0 -0.3229)">W</text>
<line x1="619.2" x2="639.5" y1="52.90" y2="52.90" stroke="#0000ff" stroke-width="1.45"/>
<text x="645.70" y="56.30" font-size="9.6" transform="matrix(1 0.0005 0 1 0 -0.3229)">NREM</text>
<line x1="619.2" x2="639.5" y1="66.70" y2="66.70" stroke="#837424" stroke-width="1.45"/>
<text x="645.70" y="70.10" font-size="9.6" transform="matrix(1 0.0005 0 1 0 -0.3229)">REM</text>
</g>
</svg>
</body></html>
